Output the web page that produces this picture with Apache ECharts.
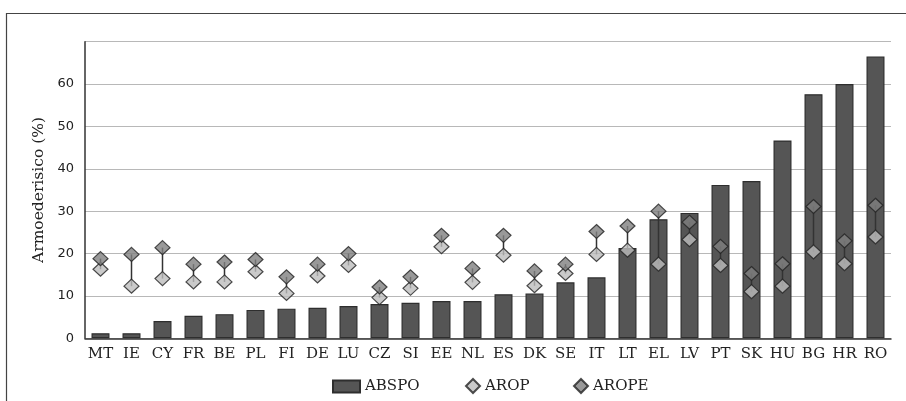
<!DOCTYPE html>
<html><head><meta charset="utf-8">
<script src="https://cdn.jsdelivr.net/npm/echarts@6/dist/echarts.min.js"></script>
<style>html,body{margin:0;padding:0;background:#fff}#c{width:906px;height:401px}</style>
</head><body><div id="c"></div>
<script>
const categories = ['MT','IE','CY','FR','BE','PL','FI','DE','LU','CZ','SI','EE','NL','ES','DK','SE','IT','LT','EL','LV','PT','SK','HU','BG','HR','RO'];
const abspo = [1.2,1.2,4.1,5.3,5.7,6.7,7.0,7.2,7.6,8.1,8.4,8.8,8.8,10.4,10.6,13.2,14.4,21.3,28.1,29.6,36.2,37.1,46.7,57.6,60.0,66.5];
const arop  = [16.3,12.3,14.1,13.3,13.3,15.7,10.6,14.7,17.2,9.6,11.8,21.6,13.2,19.6,12.4,15.3,19.8,20.8,17.5,23.3,17.2,11.0,12.3,20.4,17.6,23.9];
const arope = [18.8,19.8,21.4,17.5,18.0,18.6,14.5,17.5,20.0,12.1,14.5,24.3,16.5,24.3,15.9,17.5,25.2,26.5,30.0,27.4,21.7,15.3,17.6,31.1,23.0,31.4];
const yTicks = ['0','10','20','30','40','50','60'];

const serif = 'DejaVu Serif';
const chart = echarts.init(document.getElementById('c'));
const links = categories.map((c, i) => [i, arop[i], arope[i]]);
chart.setOption({
  animation: false,
  graphic: [
    {type:'line', shape:{x1:6,y1:13.5,x2:906,y2:13.5}, style:{stroke:'#444',lineWidth:1.2}, silent:true},
    {type:'line', shape:{x1:6.5,y1:13,x2:6.5,y2:401}, style:{stroke:'#444',lineWidth:1.2}, silent:true}
  ],
  grid: {left: 85, right: 15, top: 41.7, bottom: 62.7, containLabel:false},
  legend: [
    {data:['ABSPO'], left: 332, top: 379, padding: 0, icon:'rect', itemWidth: 27, itemHeight: 12, textStyle:{fontFamily:serif,fontSize:15,color:'#222'}},
    {data:['AROP'], left: 465, top: 378, padding: 0, itemWidth: 14, itemHeight: 14, textStyle:{fontFamily:serif,fontSize:15,color:'#222'}},
    {data:['AROPE'], left: 573, top: 378, padding: 0, itemWidth: 14, itemHeight: 14, textStyle:{fontFamily:serif,fontSize:15,color:'#222'}}
  ],
  xAxis: {
    type: 'category', data: categories,
    axisLine: {lineStyle:{color:'#333', width:1.5}},
    axisTick: {show:false},
    axisLabel: {fontFamily: serif, fontSize: 15, color:'#222', margin: 8, interval: 0}
  },
  yAxis: {
    type: 'value', min: 0, max: 70, interval: 10,
    name: 'Armoederisico (%)', nameLocation: 'middle', nameGap: 38,
    nameTextStyle: {fontFamily: serif, fontSize: 15.5, color:'#222'},
    axisLine: {show:true, lineStyle:{color:'#333', width:1.5}},
    axisTick: {show:false},
    axisLabel: {fontFamily:'DejaVu Sans', fontSize: 13, color:'#222', margin: 11,
      formatter: v => { const s = String(v); return yTicks.indexOf(s) >= 0 ? s : ''; }},
    splitLine: {lineStyle:{color:'#b8b8b8', width:1.2}}
  },
  series: [
    {name:'ABSPO', type:'bar', data: abspo, barWidth: 18,
      itemStyle:{color:'#555555', borderColor:'#2e2e2e', borderWidth:1.2}, z:2},
    {name:'link', type:'custom', data: links, z:3, encode:{x:0,y:[1,2]},
      renderItem: (params, api) => {
        const p1 = api.coord([api.value(0), api.value(1)]);
        const p2 = api.coord([api.value(0), api.value(2)]);
        return {type:'line', shape:{x1:p1[0],y1:p1[1],x2:p2[0],y2:p2[1]}, style:{stroke:'#333',lineWidth:1.5}};
      }},
    {name:'AROP', type:'scatter', data: arop, symbol:'diamond', symbolSize:[15,14],
      itemStyle:{color:'#bdbdbd', borderColor:'#222', borderWidth:1.2}, z:4},
    {name:'AROPE', type:'scatter', data: arope, symbol:'diamond', symbolSize:[15,14],
      itemStyle:{color:'#808080', borderColor:'#222', borderWidth:1.2}, z:5}
  ]
});
</script></body></html>
